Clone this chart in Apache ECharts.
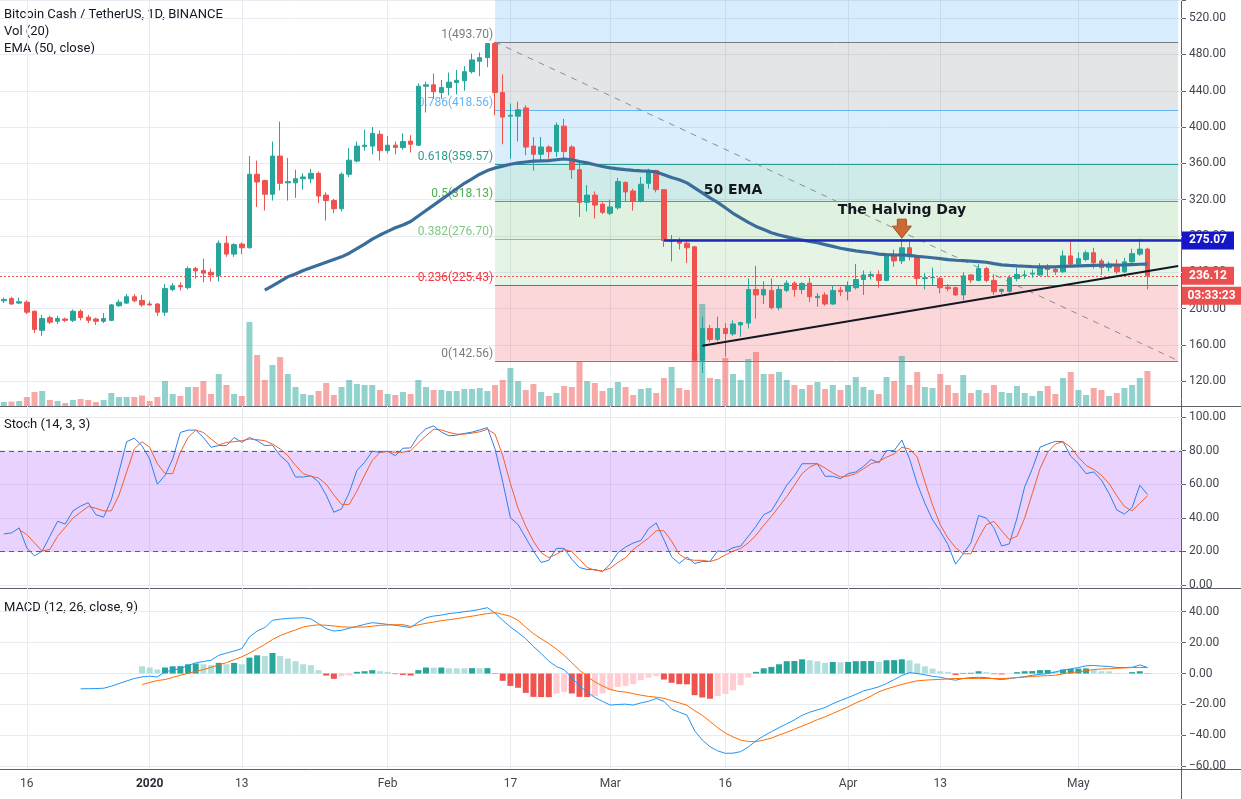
<!DOCTYPE html>
<html>
<head>
<meta charset="utf-8">
<title>Bitcoin Cash / TetherUS, 1D, BINANCE</title>
<script src="https://cdn.jsdelivr.net/npm/echarts@6/dist/echarts.min.js"></script>
<style>
html,body{margin:0;padding:0;background:#ffffff;overflow:hidden}
#chart{width:1241px;height:799px}
</style>
</head>
<body>
<div id="chart"></div>
<script>
// ---------------- data ----------------
const firstDate = '2019-12-13';
const dayCount = 154; // daily categories up to 2020-05-14 (empty space on the right)
const tickDates = ['2019-12-16','2020-01-01','2020-01-13','2020-02-01','2020-02-17','2020-03-01','2020-03-16','2020-04-01','2020-04-13','2020-05-01'];
const tickLabels = ['16','2020','13','Feb','17','Mar','16','Apr','13','May'];

// [open, high, low, close] from 2019-12-13 to 2020-05-10
const candles = [
[208.5,212,206,210],[211,213,204,205],[206,212,205,207.5],[207,209,194,196],[197,198,173,177],
[176,193,170,189],[190,192,183,185],[186,192,183,189],[188.5,190,185,187],[187,199,185,197],
[197,199,187,190],[190.5,193,184,187],[188.5,190,182,186],[186,195,184,189],[187,205,186,204],
[203,210,202,207],[206,216,205,213],[213,216,207,208.5],[209,215,202,204],
[205,208,203,204],[205,206,192,196],[196,227,192,222],[221,228,219,225],[225.5,229,220,224],
[223,246.5,221,244],[244,246,233,241.5],[242,255,229,239],[240,244,230,237],[236.5,275,230,272],
[272,280,257,260],[260,272,257,270.5],[271,273,260,267],[267,368,266,348],[348,363,312,339.5],
[341,342,308,326],[326,384,319,368],[368,406,330,338],[338.5,366,319,340],[338.5,353,322,343],
[343,349,331,345],[343,354,338,349],[349,351,316,324],[325,328,297,319],[319,321,305,310],
[310,350,307,348],[348,377,345,363.5],[362.5,384,361,379],[378.5,397,374,380],[379,400,370,393],
[392,396,363,374],
[374,390,371,380],[380,384,370,377.5],[377.5,393,375,384],[384.5,391,372,381],[380,448,379,445],
[445,450,416,446.5],[446.5,459,431,439],[438,452,431,443.5],[443.5,460,435,449.5],[449,463,436,451.5],
[451,467,440,461],[461,481,459,474],[472.5,482,456,476.5],[476.5,492.5,466,492],[492,493.7,413,438],
[438,458,381,411],[412,426,365,413],[412,428,384,419],[421,424,369,378],[379,389,352,370],
[370,389,363,378],[378,380,365,373],[373,405,367,402],[401,409,365,373],[378,380,343,353],
[353,363,301,317],[317,336,307,325],[325,329,299,314],[315,317,304,306],
[305,320,303,312],[311,344,309,340],[339,340,318,328.5],[329.5,332,308,318],[318,345,317,337],
[338,354,332,352],[352,353,328,331],[331,331,268,275],[274,281,252,275],[275,278,265,272],
[272,274,250,267],[268,269,142.56,143],[143,191,129,178],[178,182,163,166],[166,191,164,178],
[178,184,147,172.5],[172,187,170,183],[182,185.5,169,184.5],[184,233,178,221],[221,247,189,215],
[215,230,205,221],[220,233,199,201],[201,226,198,221],[220,231,218,228],[228,230,213,221],
[221,229,216,227.5],[228,234,207,213],[212,217,202,213.5],[215,218,203,205],[205,226,204,220],
[220,224,214,218.5],
[219,230,209,225],[223,249,221,232],[232,242,215,237],[236.5,241,232,237.5],[237.5,242,223,231],
[231,260,230,259],[259.5,265,246,252.5],[252.5,277,249,267],[267,274,253,257],[257,259,226,233],
[233,239,221,234],[234,245,226,234.5],[233,235,217,223],[223.5,227,219,222],[223,224,214,215],
[215,240,209,236],[237,238,228,231.5],[231,249,230,244],[244,246,229,231],[231,238,215,218.5],
[219,222,216,221],[219,237,217,234],[233,245,230,237.5],[236.5,242,233,237],[238,243,234,239],
[237,250,236,246],[246.5,249,235,243],[243,246,237,240.5],[240.5,264,239,258],[258,273.5,246,249],
[249,262,247,255],[254,264,252,261.5],[261.5,267,244,250.5],[252.5,255,237,245],[245,252,241,249],
[248,254,238,240.5],[240.5,256,239,251.5],[251.5,266,250,260.5],[260,277,258,265.5],[265.5,267,221,236.12]
];

const volumes = [
4,4.5,5,9,14,15,6,5,3,6,7,6,4,6,13,9,9,9,10.5,
5,9,25,12,10,19,19,25,12,32,21,12,10,84,51,26,41,49,32,19,12,11,15,23,11,19,26,22,21,21,16,
12,11,14,12,26,19,16,16,15,15,17,17,18,15,21,26,38,25,16,22,14,10,13,20,19,44,25,23,15,
18,24,19,11,17,18,13,28,39,18,16,53,102,28,27,48,32,26,47,54,32,32,34,26,21,17,21,24,17,21,16,
21,29,19,16,12,29,25,50,21,34,19,18,32,21,13,31,13,16,13,21,14,13,20,13,10,15,20,12,28,34,
16,11,18,16,10,13,18,21,28,35
];

const emaStart = '2020-01-16';
const emaValues = [
220.3,225,230,235,238,242,245,248,251,254,257,261,266,271,276.5,281,
285,289,292,296,302,308,314,320,326,332,338,343,348,352,355,357,359,360.5,361.5,362.5,362.8,363,364,364.8,364,362,360.5,358.5,356.5,
355,354,353,352.3,351.8,351.5,350.5,347.5,344.5,342,338.5,333,327.5,322,317,311,305,300,295,290.5,287,283.5,281,279,277,275.5,274,272.5,270.5,268.5,266.5,
265,263.5,262.5,261.5,260,259.5,259.2,259,258.5,257.5,256.8,256,255,254,253.2,252.8,252.3,251.8,251,249.5,248.2,247.5,247,246.6,246.2,246,246,246,246.4,246.7,
247,247.3,247.6,247.7,247.8,248,248.2,248.5,248.8,248.9
];

const stochKStart = '2019-12-13';
const stochK = [
30.4,31,34,22,17.3,20.2,29,37.9,36.3,44.1,47,49,41.8,40.4,50.6,67.3,85.3,87.4,82.9,
75,60,65.3,75,90.8,92.2,92.2,87.8,82,83,83,87.8,84.9,87.8,85.9,83,83.3,77,73,64.3,64.3,65,61.4,53.5,43.3,45.3,55,68.2,73,79.6,79,
79.6,77,81.4,81.6,88.8,93,94.7,91,88.8,89.2,90.2,91,92.3,93.7,81,61.4,40,36,28,20.2,13.4,14.7,21.8,21.8,15.3,10.4,9.2,9.2,8,
12.4,19.2,22.6,25,26.5,33.5,36.9,27,16.7,12.8,16.7,12.8,14,14,20.2,19.8,22.2,23.2,29,35,41.8,44.1,51.6,59.4,64.9,72.2,72.2,72.2,64.7,64.7,63.3,
66.3,67.3,70.6,74.7,72.7,80,80,86.3,75.1,60.4,48.6,38.8,32,24.1,12.4,18.6,25.1,41.4,39.8,34,23.2,24.5,39.8,58.4,69.2,82,83.9,85.5,85.3,76.7,
72.2,66.3,67.3,62.4,54.5,44.7,42.2,46.1,59.4,53.9
];
const stochDStart = '2019-12-15';
const stochD = [
33,30,25,20.2,21.2,29,34.3,39.8,43.3,46.7,45.7,44.1,44.1,53.5,67.3,81,85.3,
82,72.2,66.3,66.3,79,87.8,92.2,90.8,86.9,83.3,84.9,85.3,85.9,86.9,86.5,85.9,83.9,81,77,71.2,66.3,64.7,63.7,60,53.5,48,48,55.9,65.3,74.1,79,
79.4,79,79,80,84.5,88.8,92.7,92.3,90.8,89.8,89.8,90.4,91.2,92.7,89.8,77,60.4,45.7,35,26.1,19.2,16.3,18.3,21.2,19.8,15.3,10.4,8.8,8.4,
10,13.4,16.3,21.2,24.5,28,32.3,32.3,26.1,18.3,15.3,14.7,14.7,14,15.3,17.9,20.2,21.8,25.1,29.6,35.5,40.8,46.7,52.6,59.4,66.3,70.2,72.2,69.6,66.7,64.3,
64.9,66.3,69.2,72.2,73.5,76.1,78,82,81,76.1,61.4,47.6,35.9,28,22.2,18.6,18.6,28,35.9,37.9,32.3,27,29,39.8,54.5,69.2,79,83.9,85.3,82,
76.1,71.2,68.8,65.3,60.4,53.1,46.7,44.1,48.6,53.1
];

const macdStart = '2019-12-23';
const macdLine = [
-9.9,-9.8,-9.7,-9.5,-8.2,-6.5,-4.8,-3.2,-2.2,
-1.7,-2.2,1.1,2.2,3.2,5.2,6.9,7.8,8.6,11.8,13.2,14.6,16.1,23.7,27.5,29.7,34.4,35.2,35.7,35.9,36.1,35.3,32.3,29,27.5,28,29.3,30.5,31.8,32.9,32.4,
31.8,31.2,30.5,29.7,33.3,36.1,37.2,37.8,38.8,39.3,40,40.6,41.5,42.6,39.1,34.5,30.1,26.5,22.5,17.5,13,8,4.5,2.5,-2.6,-8,-12,-15.5,-18,
-20.4,-20,-19.8,-20.4,-19,-18,-16.1,-18,-23,-25,-26.9,-37,-43,-47.3,-50,-51.6,-51.5,-50.5,-47.5,-43.5,-40.4,-37.6,-35,-32.5,-30,-27,-25,-23.5,-22,-19.5,-17.5,
-15.5,-13.5,-11.2,-10,-8.6,-6.5,-3.9,-1.2,0.6,0,-0.8,-1.8,-2.4,-3.5,-4.3,-3.2,-2.6,-2.4,-2.6,-3.4,-3.9,-3.3,-2.6,-2,-1.1,-0.5,0,1,2.2,3,
3.9,5,5.2,4.8,4.6,3.9,3.9,4,5.6,3.9
];
const signalStart = '2019-12-31';
const signalLine = [
-7.1,
-5.8,-4.5,-3.9,-2.5,-1.1,0.1,1.3,2.6,4,5.6,7,9,10.8,13.2,16,18.8,22,24.5,26.5,28.2,30.1,31,31.5,31.2,30.8,30.2,30,30.1,30.1,30.6,31.2,
31.4,31.6,31.6,30.5,31.5,32.5,33.3,34.2,34.8,35.5,36.3,37.1,38,38.8,39.4,38.3,37,34.4,30,25.8,22.5,19.4,15.8,11.8,7,2.2,-1.8,-5.4,-8,
-10.3,-11.5,-12,-13,-14,-14.8,-15.3,-16,-17.5,-19,-20.5,-24,-27,-31,-35,-38.5,-41,-43,-44,-44.1,-43,-41.8,-39.8,-38,-36,-34,-32,-29.8,-28,-25.8,-23.7,
-21.5,-19,-17,-14.5,-11.8,-10,-8.5,-7,-5.8,-4.7,-4.3,-4,-3.8,-3.5,-3.2,-3.2,-3.2,-3.2,-3.2,-3.2,-3.2,-3,-2.6,-2.3,-1.9,-1.6,-1.3,-1.1,-0.2,0.6,
1.1,1.8,2.6,2.9,3.1,3.4,3.6,3.9,3.9,3.9
];
const histValues = [
4.7,
3.9,2.6,3.9,4.7,4.8,6,6.5,6,5.4,6.9,6,6.9,6,10.3,11.8,11.4,13.3,11.4,9.7,8,6,5.4,2.2,-1.3,-3.4,-1.7,-1.3,1.1,1.5,2.2,1.5,
1.1,-0.4,-0.9,-1.3,2.2,3.9,3.8,3.9,3.4,3.4,3.4,3.5,3.4,3.5,-0.3,-4.7,-8,-9.2,-12.5,-15.1,-15.2,-15.3,-12.9,-11.8,-12.9,-15.1,-15.2,-14.6,-12.9,
-10.8,-8.6,-8,-6.9,-4.3,-2.6,-1.7,-3.9,-6,-6.9,-7,-14,-15.5,-16.3,-14.6,-13.3,-10.8,-7.5,-2.6,1.1,3.4,4.3,6,8,8.1,9.2,8.6,8,6.9,7.5,7.3,
7.5,8,8.05,8.1,7.5,8.6,8.7,9.2,8.6,6.5,4.7,3.2,1.5,1.1,-0.9,0.4,0.5,1.5,0.9,-0.4,-0.6,-0.3,0.9,1.5,1.6,2.2,2.3,1.5,2.6,3,
3.2,3.3,2.2,1.5,1.4,0.4,0.2,0.9,1.5,-0.2
];

const fibRatios = ['1','0.786','0.618','0.5','0.382','0.236','0'];
const fibPrices = [493.70, 418.56, 359.57, 318.13, 276.70, 225.43, 142.56];
const fibFrom = '2020-02-15';
const fibTo = '2020-05-14';
const fibTopPrice = 540;
const lastPrice = 236.12;
const countdownText = '03:33:23';
const resistancePrice = 275.07;
const resistanceFrom = '2020-03-08';
const trendFrom = ['2020-03-13', 159];
const trendTo = ['2020-05-14', 247];
const noteDates = ['2020-03-17', '2020-04-08'];
const notePrices = [330, 308.5];
const noteTexts = ['50 EMA', 'The Halving Day'];
const arrowDate = '2020-04-08';
const arrowPrices = [298.5, 277.6]; // top, tip
const stochLevels = [20, 80];

// ---------------- helpers ----------------
const DAY = 86400000;
const t0 = Date.parse(firstDate);
const dates = Array.from({length: dayCount}, (_, i) => new Date(t0 + i * DAY).toISOString().slice(0, 10));
const idx = d => Math.round((Date.parse(d) - t0) / DAY);
const pad = (start, arr) => new Array(idx(start)).fill(null).concat(arr);
const tickSet = new Set(tickDates);
const labelOf = {};
tickDates.forEach((d, i) => { labelOf[d] = tickLabels[i]; });

const UP = '#26a69a', DOWN = '#ef5350';
const GRID_LINE = '#e8ebf0';
const AXIS_TXT = '#434651';
const SEP = '#5d606b';
const FONT = 'Roboto, "Liberation Sans", sans-serif';
const L = -5, W = 1187;

const fibColors = ['#787b86', '#64b5f6', '#2a9d8f', '#4caf50', '#81c784', '#f23645', '#787b86'];
const bandColors = ['rgba(33,150,243,0.18)', 'rgba(120,123,134,0.2)', 'rgba(33,150,243,0.16)',
  'rgba(38,166,154,0.22)', 'rgba(76,175,80,0.18)', 'rgba(129,199,132,0.2)', 'rgba(242,54,69,0.2)'];

const candleData = candles.map(c => [c[0], c[3], c[2], c[1]]);
const volData = volumes.map((v, i) => ({
  value: v,
  itemStyle: {color: candles[i][3] >= candles[i][0] ? 'rgba(38,166,154,0.5)' : 'rgba(239,83,80,0.5)'}
}));
const histPadded = pad(signalStart, histValues);
const histData = histPadded.map((v, i) => {
  if (v == null) return null;
  const prev = histPadded[i - 1];
  let c;
  if (v >= 0) c = (prev != null && v > prev) ? '#26a69a' : '#b2dfdb';
  else c = (prev != null && v < prev) ? '#ef5350' : '#ffcdd2';
  return {value: v, itemStyle: {color: c}};
});

const fi = idx(fibFrom), ft = idx(fibTo);
const bandData = [[fi, ft, fibTopPrice, fibPrices[0], 0]];
for (let i = 0; i < fibPrices.length - 1; i++) bandData.push([fi, ft, fibPrices[i], fibPrices[i + 1], i + 1]);
const levelData = fibPrices.map((p, i) => [fi, ft, p, i]);

// ---------------- chart ----------------
const chart = echarts.init(document.getElementById('chart'));

const vSplit = {show: true, alignWithLabel: true, interval: (i, v) => tickSet.has(v), lineStyle: {color: GRID_LINE, width: 1}};
function catAxis(gi, extra) {
  return Object.assign({
    type: 'category', gridIndex: gi, data: dates, boundaryGap: true,
    axisLine: {show: false}, axisTick: {show: false}, axisLabel: {show: false}, splitLine: {show: false}
  }, extra || {});
}
function fmtNum(v) { return v < 0 ? '\u2212' + Math.abs(v).toFixed(2) : v.toFixed(2); }
function rightAxis(gi, min, max, step, fmt) {
  return {
    type: 'value', gridIndex: gi, position: 'right', min: min, max: max, interval: step,
    axisLine: {show: false},
    axisTick: {show: true, length: 4, lineStyle: {color: SEP}},
    axisLabel: {color: AXIS_TXT, fontSize: 12, fontFamily: FONT, margin: 7, formatter: fmt || fmtNum},
    splitLine: {show: true, lineStyle: {color: GRID_LINE, width: 1}}
  };
}
function hiddenAxis(gi, extra) { return Object.assign({type: 'value', gridIndex: gi, show: false}, extra || {}); }

const option = {
  animation: false,
  backgroundColor: '#ffffff',
  textStyle: {fontFamily: FONT},
  grid: [
    {left: L, width: W, top: 0, height: 417.45},
    {left: L, width: W, top: 296, height: 110},
    {left: L, width: W, top: 406, height: 182},
    {left: L, width: W, top: 417, height: 168},
    {left: L, width: W, top: 588, height: 181},
    {left: L, width: W, top: 611.7, height: 154.6}
  ],
  xAxis: [
    catAxis(0, {splitLine: vSplit}),
    catAxis(1),
    catAxis(2, {splitLine: vSplit}),
    catAxis(3),
    catAxis(4, {
      splitLine: vSplit,
      axisLabel: {
        show: true, interval: (i, v) => tickSet.has(v), color: AXIS_TXT, fontSize: 12, fontFamily: FONT, margin: 9,
        formatter: v => (v === '2020-01-01' ? '{y|' + labelOf[v] + '}' : labelOf[v]),
        rich: {y: {fontWeight: 'bold', fontSize: 12, color: '#2a2e39', fontFamily: FONT}}
      }
    }),
    catAxis(5)
  ],
  yAxis: [
    rightAxis(0, 80, 540, 40, v => (v < 120 || v > 520) ? '' : v.toFixed(2)),
    hiddenAxis(1, {min: 0, max: 110}),
    hiddenAxis(2, {min: 0, max: 1}),
    rightAxis(3, 0, 100, 20),
    hiddenAxis(4, {min: 0, max: 1}),
    rightAxis(5, -60, 40, 20)
  ],
  graphic: [
    {type: 'text', left: 4, top: 8, style: {text: 'Bitcoin Cash / TetherUS, 1D, BINANCE', fill: '#131722', font: '13px ' + FONT}},
    {type: 'text', left: 4, top: 25, style: {text: 'Vol (20)', fill: '#131722', font: '13px ' + FONT}},
    {type: 'text', left: 4, top: 42, style: {text: 'EMA (50, close)', fill: '#131722', font: '13px ' + FONT}},
    {type: 'text', left: 4, top: 418, style: {text: 'Stoch (14, 3, 3)', fill: '#131722', font: '13px ' + FONT}},
    {type: 'text', left: 4, top: 601, style: {text: 'MACD (12, 26, close, 9)', fill: '#131722', font: '13px ' + FONT}},
    {type: 'line', silent: true, shape: {x1: 0, y1: 406.5, x2: 1241, y2: 406.5}, style: {stroke: SEP, lineWidth: 1}},
    {type: 'line', silent: true, shape: {x1: 0, y1: 588.5, x2: 1241, y2: 588.5}, style: {stroke: SEP, lineWidth: 1}},
    {type: 'line', silent: true, shape: {x1: 0, y1: 769.5, x2: 1241, y2: 769.5}, style: {stroke: SEP, lineWidth: 1}},
    {type: 'line', silent: true, shape: {x1: 1181.5, y1: 0, x2: 1181.5, y2: 799}, style: {stroke: SEP, lineWidth: 1}}
  ],
  series: [
    // fib bands
    {
      type: 'custom', xAxisIndex: 0, yAxisIndex: 0, z: 1, silent: true, clip: true, data: bandData,
      renderItem: (params, api) => {
        const a = api.coord([api.value(0), api.value(2)]);
        const b = api.coord([api.value(1), api.value(3)]);
        return {type: 'rect', shape: {x: a[0], y: Math.min(a[1], b[1]), width: b[0] - a[0], height: Math.abs(b[1] - a[1])},
          style: {fill: bandColors[api.value(4)]}};
      }
    },
    // fib levels + labels
    {
      type: 'custom', xAxisIndex: 0, yAxisIndex: 0, z: 2, silent: true, clip: false, data: levelData,
      renderItem: (params, api) => {
        const i = api.value(3);
        const a = api.coord([api.value(0), api.value(2)]);
        const b = api.coord([api.value(1), api.value(2)]);
        return {type: 'group', children: [
          {type: 'line', shape: {x1: a[0], y1: Math.round(a[1]) + 0.5, x2: b[0], y2: Math.round(b[1]) + 0.5}, style: {stroke: fibColors[i], lineWidth: 1}},
          {type: 'text', style: {text: fibRatios[i] + '(' + fibPrices[i].toFixed(2) + ')', x: a[0] - 2, y: a[1] - 1,
            align: 'right', verticalAlign: 'bottom', fill: fibColors[i], font: '12px ' + FONT}}
        ]};
      }
    },
    // fib diagonal (dashed)
    {
      type: 'custom', xAxisIndex: 0, yAxisIndex: 0, z: 2, silent: true, clip: true,
      data: [[fi, fibPrices[0], ft, fibPrices[fibPrices.length - 1]]],
      renderItem: (params, api) => {
        const a = api.coord([api.value(0), api.value(1)]);
        const b = api.coord([api.value(2), api.value(3)]);
        return {type: 'line', shape: {x1: a[0], y1: a[1], x2: b[0], y2: b[1]}, style: {stroke: '#8a8d96', lineWidth: 1, lineDash: [6, 6]}};
      }
    },
    // last price dotted line
    {
      type: 'custom', xAxisIndex: 0, yAxisIndex: 0, z: 2, silent: true, clip: true, data: [[0, lastPrice]],
      renderItem: (params, api) => {
        const y = Math.round(api.coord([0, api.value(1)])[1]) + 0.5;
        const cs = params.coordSys;
        return {type: 'line', shape: {x1: cs.x, y1: y, x2: cs.x + cs.width, y2: y}, style: {stroke: '#ef5350', lineWidth: 1, lineDash: [2, 2]}};
      }
    },
    // candles
    {
      type: 'candlestick', xAxisIndex: 0, yAxisIndex: 0, z: 3, barWidth: 5, data: candleData,
      itemStyle: {color: UP, color0: DOWN, borderColor: UP, borderColor0: DOWN, borderWidth: 1}
    },
    // volume
    {type: 'bar', xAxisIndex: 1, yAxisIndex: 1, z: 4, barWidth: 6, silent: true, data: volData},
    // EMA 50
    {
      type: 'line', xAxisIndex: 0, yAxisIndex: 0, z: 5, data: pad(emaStart, emaValues), symbol: 'none', silent: true,
      lineStyle: {color: '#3a6d9a', width: 3.2}
    },
    // resistance + trend line
    {
      type: 'custom', xAxisIndex: 0, yAxisIndex: 0, z: 6, silent: true, clip: true,
      data: [[idx(resistanceFrom), resistancePrice, -1, resistancePrice, 0], [idx(trendFrom[0]), trendFrom[1], idx(trendTo[0]), trendTo[1], 1]],
      renderItem: (params, api) => {
        const kind = api.value(4);
        const a = api.coord([api.value(0), api.value(1)]);
        let b;
        if (kind === 0) { const cs = params.coordSys; b = [cs.x + cs.width, a[1]]; }
        else b = api.coord([api.value(2), api.value(3)]);
        return {type: 'line', shape: {x1: a[0], y1: a[1], x2: b[0], y2: b[1]},
          style: kind === 0 ? {stroke: '#1d2bb8', lineWidth: 2.5} : {stroke: '#131722', lineWidth: 2}};
      }
    },
    // notes
    {
      type: 'custom', xAxisIndex: 0, yAxisIndex: 0, z: 7, silent: true, clip: false,
      data: noteDates.map((d, i) => [idx(d), notePrices[i], i]),
      renderItem: (params, api) => {
        const p = api.coord([api.value(0), api.value(1)]);
        return {type: 'text', style: {text: noteTexts[api.value(2)], x: p[0], y: p[1], align: 'center', verticalAlign: 'middle',
          fill: '#131722', font: 'bold 14px "DejaVu Sans", sans-serif'}};
      }
    },
    // halving arrow
    {
      type: 'custom', xAxisIndex: 0, yAxisIndex: 0, z: 7, silent: true, clip: false,
      data: [[idx(arrowDate), arrowPrices[0], arrowPrices[1]]],
      renderItem: (params, api) => {
        const top = api.coord([api.value(0), api.value(1)]);
        const tip = api.coord([api.value(0), api.value(2)]);
        const cx = top[0], h = tip[1] - 12;
        return {type: 'polygon', shape: {points: [[cx - 4.5, top[1]], [cx + 4.5, top[1]], [cx + 4.5, h], [cx + 9.5, h], [cx, tip[1]], [cx - 9.5, h], [cx - 4.5, h]]},
          style: {fill: '#cd6a34', stroke: '#a44f22', lineWidth: 1}};
      }
    },
    // price scale boxes
    {
      type: 'custom', xAxisIndex: 0, yAxisIndex: 0, z: 10, silent: true, clip: false,
      data: [[0, resistancePrice, 0], [0, lastPrice, 1], [0, lastPrice, 2]],
      renderItem: (params, api) => {
        const k = api.value(2);
        const cs = params.coordSys;
        const y = api.coord([0, api.value(1)])[1] + (k === 2 ? 20 : 0);
        const x = cs.x + cs.width;
        const texts = [resistancePrice.toFixed(2), lastPrice.toFixed(2), countdownText];
        const fills = ['#1616c4', '#ec4f4f', '#ec4f4f'];
        const w = k === 2 ? 59 : 52;
        return {type: 'group', children: [
          {type: 'rect', shape: {x: x, y: y - 9, width: w, height: 18}, style: {fill: fills[k]}},
          {type: 'text', style: {text: texts[k], x: x + w / 2, y: y, align: 'center', verticalAlign: 'middle', fill: '#ffffff', font: 'bold 12px ' + FONT}}
        ]};
      }
    },
    // stoch band and dashed levels
    {
      type: 'custom', xAxisIndex: 3, yAxisIndex: 3, z: 1, silent: true, clip: false, data: [[0, stochLevels[0], stochLevels[1]]],
      renderItem: (params, api) => {
        const cs = params.coordSys;
        const yl = Math.round(api.coord([0, api.value(1)])[1]) + 0.5;
        const yh = Math.round(api.coord([0, api.value(2)])[1]) + 0.5;
        return {type: 'group', children: [
          {type: 'rect', shape: {x: cs.x, y: yh, width: cs.width, height: yl - yh}, style: {fill: 'rgba(150,30,250,0.2)'}},
          {type: 'line', shape: {x1: cs.x, y1: yh, x2: cs.x + cs.width, y2: yh}, style: {stroke: '#5d606b', lineWidth: 1, lineDash: [5, 4]}},
          {type: 'line', shape: {x1: cs.x, y1: yl, x2: cs.x + cs.width, y2: yl}, style: {stroke: '#5d606b', lineWidth: 1, lineDash: [5, 4]}}
        ]};
      }
    },
    {type: 'line', xAxisIndex: 3, yAxisIndex: 3, z: 3, clip: false, data: pad(stochKStart, stochK), symbol: 'none', silent: true, lineStyle: {color: '#2f7fe6', width: 1}},
    {type: 'line', xAxisIndex: 3, yAxisIndex: 3, z: 3, clip: false, data: pad(stochDStart, stochD), symbol: 'none', silent: true, lineStyle: {color: '#f2602a', width: 1}},
    // MACD
    {type: 'bar', xAxisIndex: 5, yAxisIndex: 5, z: 2, barWidth: 6, silent: true, data: histData},
    {type: 'line', xAxisIndex: 5, yAxisIndex: 5, z: 3, clip: false, data: pad(macdStart, macdLine), symbol: 'none', silent: true, lineStyle: {color: '#2196f3', width: 1}},
    {type: 'line', xAxisIndex: 5, yAxisIndex: 5, z: 3, clip: false, data: pad(signalStart, signalLine), symbol: 'none', silent: true, lineStyle: {color: '#ff6d00', width: 1}}
  ]
};
chart.setOption(option);
</script>
</body>
</html>
